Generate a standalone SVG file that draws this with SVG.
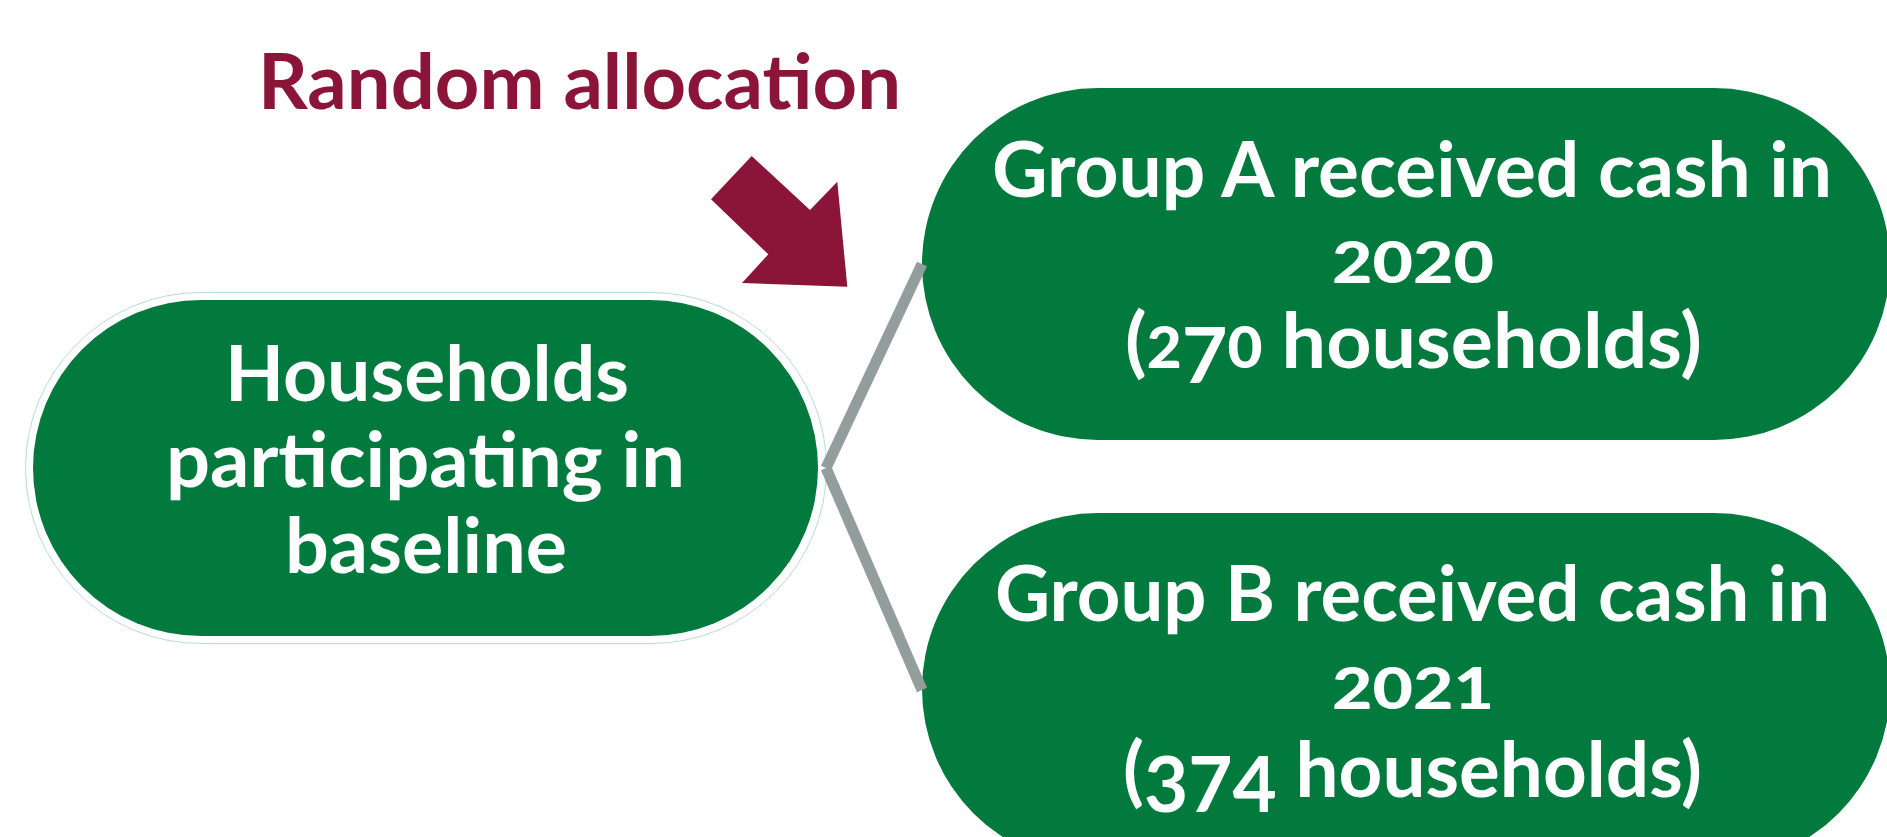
<svg xmlns="http://www.w3.org/2000/svg" width="1887" height="837" viewBox="0 0 1887 837">
<style>
.node{fill:#027a3e}
.t{font-family:Lato,"Open Sans","Liberation Sans",sans-serif;font-weight:700;font-size:76px;fill:#ffffff}
.sm{font-size:58px;font-weight:900}
.title{font-family:Lato,"Open Sans","Liberation Sans",sans-serif;font-weight:700;font-size:76px;fill:#8a1538}
.conn{stroke:#939d9b;stroke-width:11;fill:none;stroke-linecap:butt}
</style>
<rect width="1887" height="837" fill="#ffffff"/>
<g id="title">
<text class="title" x="258" y="109" textLength="643" lengthAdjust="spacingAndGlyphs">Random allocation</text>
</g>
<g id="arrow">
<polygon points="751.7,156 810,210 837.3,181.7 847.3,286.7 742,283 768.3,254.3 711,199.3" fill="#8a1538"/>
</g>
<g id="baseline-node">
<rect x="25.5" y="292.5" width="801" height="351" rx="175.5" fill="#ffffff" stroke="#b9ddd3" stroke-width="1"/>
<rect class="node" x="33" y="300" width="785" height="336" rx="168"/>
<text class="t" x="225" y="401" textLength="404" lengthAdjust="spacingAndGlyphs">Households</text>
<text class="t" x="166" y="487" textLength="519" lengthAdjust="spacingAndGlyphs">participating in</text>
<text class="t" x="285" y="573" textLength="282" lengthAdjust="spacingAndGlyphs">baseline</text>
</g>
<g id="group-a">
<rect class="node" x="922" y="88" width="968" height="352" rx="176"/>
<text class="t" x="992" y="197" textLength="840" lengthAdjust="spacingAndGlyphs">Group A received cash in</text>
<text class="t sm" x="1332" y="283" textLength="162" lengthAdjust="spacingAndGlyphs">2020</text>
<text class="t" x="1125" y="368" textLength="577" lengthAdjust="spacingAndGlyphs">(<tspan class="sm">2</tspan><tspan dy="15">7</tspan><tspan class="sm" dy="-15">0</tspan> households)</text>
</g>
<g id="group-b">
<rect class="node" x="922" y="513" width="968" height="352" rx="176"/>
<text class="t" x="995" y="621" textLength="835" lengthAdjust="spacingAndGlyphs">Group B received cash in</text>
<text class="t sm" x="1332" y="709" textLength="162" lengthAdjust="spacingAndGlyphs">2021</text>
<text class="t" x="1123" y="797" textLength="579" lengthAdjust="spacingAndGlyphs">(<tspan dy="15">374</tspan><tspan dy="-15"> households)</tspan></text>
</g>
<g id="connectors">
<line class="conn" x1="826" y1="468" x2="922" y2="264"/>
<line class="conn" x1="826" y1="468" x2="922" y2="690"/>
</g>
</svg>
